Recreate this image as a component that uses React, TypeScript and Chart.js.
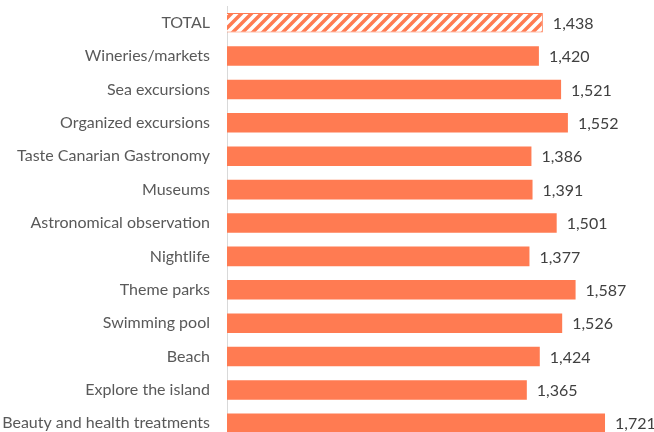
import React, { useEffect, useRef } from "react";
import { Chart, registerables } from "chart.js";

Chart.register(...registerables);

const categories: string[] = [
  "TOTAL",
  "Wineries/markets",
  "Sea excursions",
  "Organized excursions",
  "Taste Canarian Gastronomy",
  "Museums",
  "Astronomical observation",
  "Nightlife",
  "Theme parks",
  "Swimming pool",
  "Beach",
  "Explore the island",
  "Beauty and health treatments",
];

const values: number[] = [1438, 1420, 1521, 1552, 1386, 1391, 1501, 1377, 1587, 1526, 1424, 1365, 1721];

const ORANGE = "#FF7B52";
const FONT = "Lato, 'Open Sans', sans-serif";

function makeStripePattern(ctx: CanvasRenderingContext2D): CanvasPattern | string {
  const size = 10;
  const c = document.createElement("canvas");
  c.width = size;
  c.height = size;
  const p = c.getContext("2d");
  if (!p) return ORANGE;
  p.fillStyle = ORANGE;
  p.fillRect(0, 0, size, size);
  p.strokeStyle = "#FFFFFF";
  p.lineWidth = 3.6;
  p.beginPath();
  p.moveTo(0, size);
  p.lineTo(size, 0);
  p.moveTo(-size / 2, size / 2);
  p.lineTo(size / 2, -size / 2);
  p.moveTo(size / 2, size * 1.5);
  p.lineTo(size * 1.5, size / 2);
  p.stroke();
  return ctx.createPattern(c, "repeat") || ORANGE;
}

const valueLabels = {
  id: "valueLabels",
  afterDatasetsDraw(chart: any) {
    const ctx = chart.ctx;
    const meta = chart.getDatasetMeta(0);
    ctx.save();
    ctx.font = `16px ${FONT}`;
    ctx.fillStyle = "#404040";
    ctx.textAlign = "left";
    ctx.textBaseline = "middle";
    meta.data.forEach((bar: any, i: number) => {
      const v = chart.data.datasets[0].data[i] as number;
      ctx.fillText(v.toLocaleString("en-US"), bar.x + 10, bar.y + 1);
    });
    ctx.restore();
  },
};

export default function App() {
  const ref = useRef<HTMLCanvasElement | null>(null);

  useEffect(() => {
    document.body.style.margin = "0";
    document.documentElement.style.overflow = "hidden";
    document.body.style.overflow = "hidden";
    const canvas = ref.current;
    if (!canvas) return;
    const ctx = canvas.getContext("2d");
    if (!ctx) return;
    const pattern = makeStripePattern(ctx);
    const bg = values.map((_, i) => (i === 0 ? pattern : ORANGE));
    const chart = new Chart(canvas, {
      type: "bar",
      data: {
        labels: categories,
        datasets: [
          {
            data: values,
            backgroundColor: bg as any,
            borderColor: values.map((_, i) => (i === 0 ? ORANGE : "rgba(0,0,0,0)")),
            borderWidth: values.map((_, i) => (i === 0 ? 1 : 0)),
            categoryPercentage: 1,
            barPercentage: 0.585,
          },
        ],
      },
      options: {
        indexAxis: "y",
        responsive: false,
        animation: false,
        layout: { padding: { top: 6, right: 0, bottom: 0, left: 0 } },
        plugins: {
          legend: { display: false },
          tooltip: { enabled: false },
        },
        scales: {
          x: {
            display: false,
            min: 0,
            max: 1944,
          },
          y: {
            afterFit: (scale: any) => {
              scale.width = 227;
              scale.paddingTop = 0;
              scale.paddingBottom = 0;
            },
            grid: { display: false, drawTicks: false },
            border: { display: true, color: "#D9D9D9", width: 1 },
            ticks: {
              padding: 17,
              color: "#595959",
              font: { family: FONT, size: 16 },
            },
          },
        },
      },
      plugins: [valueLabels],
    });
    return () => chart.destroy();
  }, []);

  return (
    <div style={{ width: 654, height: 432, overflow: "hidden", background: "#fff" }}>
      <canvas ref={ref} width={654} height={440} style={{ display: "block" }} />
    </div>
  );
}
